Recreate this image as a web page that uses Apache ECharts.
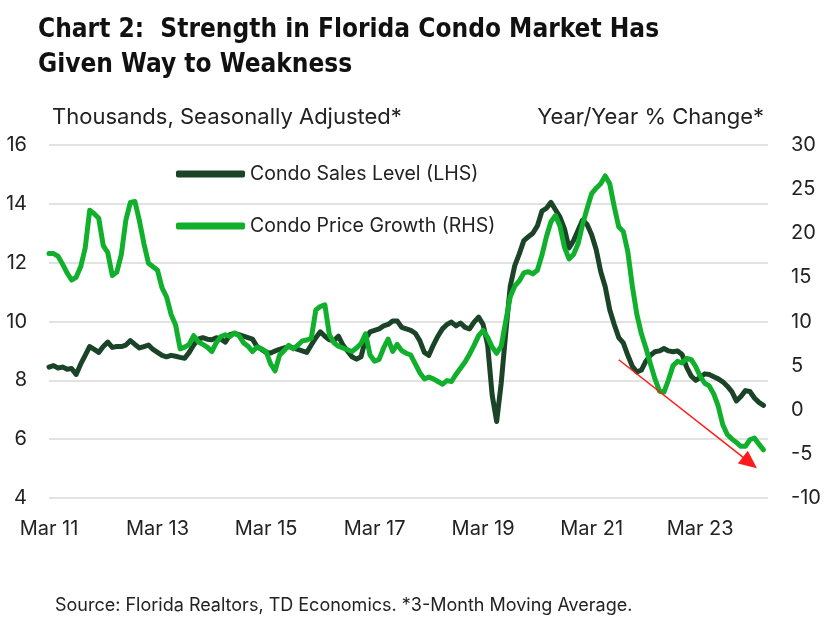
<!DOCTYPE html>
<html>
<head>
<meta charset="utf-8">
<script src="https://cdn.jsdelivr.net/npm/echarts@6/dist/echarts.min.js"></script>
<style>
  html, body { margin: 0; padding: 0; background: #fff; }
  #chart { width: 827px; height: 617px; }
</style>
</head>
<body>
<div id="chart"></div>
<script>
// monthly, Mar 2011 .. May 2024 (plus one empty month at the end)
const monthNames = ["Jan", "Feb", "Mar", "Apr", "May", "Jun", "Jul", "Aug", "Sep", "Oct", "Nov", "Dec"];
const categories = [];
for (let i = 0; i < 160; i++) {
  const m = (2 + i) % 12;
  const y = 11 + Math.floor((2 + i) / 12);
  categories.push(monthNames[m] + " " + String(y).padStart(2, "0"));
}
const tickLabels = ["Mar 11", "Mar 13", "Mar 15", "Mar 17", "Mar 19", "Mar 21", "Mar 23"];

// Condo sales level, thousands (LHS)
const salesLevel = [
  8.45, 8.5, 8.42, 8.45, 8.38, 8.4, 8.2, 8.55, 8.85, 9.15, 9.05, 8.95,
  9.15, 9.3, 9.12, 9.15, 9.15, 9.2, 9.35, 9.22, 9.1, 9.15, 9.2, 9.05,
  8.95, 8.85, 8.8, 8.85, 8.82, 8.78, 8.75, 8.95, 9.2, 9.4, 9.45, 9.4,
  9.38, 9.45, 9.4, 9.3, 9.55, 9.6, 9.55, 9.5, 9.45, 9.4, 9.15, 9.05,
  8.95, 8.93, 9.0, 9.05, 9.1, 9.15, 9.1, 9.05, 9.0, 8.95, 9.2, 9.45,
  9.65, 9.5, 9.38, 9.35, 9.5, 9.2, 9.0, 8.8, 8.72, 8.8, 9.4, 9.65,
  9.7, 9.75, 9.85, 9.9, 10.02, 10.02, 9.8, 9.75, 9.7, 9.6, 9.35, 8.95,
  8.85, 9.2, 9.5, 9.75, 9.9, 9.98, 9.85, 9.95, 9.8, 9.75, 9.98, 10.15,
  9.9, 9.2, 7.5, 6.6, 7.9, 9.6, 11.2, 11.9, 12.3, 12.75, 12.88, 13.0,
  13.25, 13.75, 13.85, 14.05, 13.8, 13.55, 13.15, 12.5, 12.75, 13.1, 13.45, 13.3,
  12.95, 12.45, 11.7, 11.18, 10.4, 9.9, 9.45, 9.27, 8.85, 8.48, 8.28, 8.35,
  8.65, 8.85, 8.97, 9.0, 9.08, 9.0, 8.97, 9.0, 8.88, 8.45, 8.15, 8.0,
  8.1, 8.22, 8.2, 8.12, 8.05, 7.95, 7.8, 7.62, 7.3, 7.45, 7.65, 7.62,
  7.4, 7.25, 7.15, null
];

// Condo price growth, y/y % (RHS)
const priceGrowth = [
  17.7, 17.7, 17.4, 16.5, 15.5, 14.7, 15.0, 16.2, 18.3, 22.6, 22.2, 21.7,
  18.6, 17.8, 15.2, 15.6, 17.6, 21.5, 23.5, 23.6, 21.4, 18.8, 16.6, 16.2,
  15.8, 13.8, 12.8, 10.8, 9.6, 6.9, 7.1, 7.4, 8.4, 7.7, 7.4, 7.1,
  6.6, 7.6, 8.3, 8.5, 8.3, 8.7, 8.4, 7.6, 7.2, 6.6, 7.1, 6.9,
  6.6, 5.2, 4.4, 6.2, 6.7, 7.3, 6.9, 7.3, 7.8, 7.9, 8.1, 11.3,
  11.7, 11.9, 8.5, 7.6, 7.2, 7.0, 6.8, 6.6, 7.0, 7.5, 8.6, 6.2,
  5.5, 5.7, 7.0, 8.0, 6.6, 7.4, 6.7, 6.4, 6.2, 5.2, 4.2, 3.5,
  3.7, 3.5, 3.2, 2.9, 3.3, 3.2, 4.0, 4.7, 5.4, 6.3, 7.3, 8.4,
  9.0, 8.2, 7.1, 6.4, 7.2, 10.0, 12.8, 14.0, 14.6, 15.5, 15.65, 15.4,
  15.8, 17.5, 19.6, 21.3, 22.0, 20.8, 18.4, 17.1, 17.6, 18.8, 21.0, 22.8,
  24.5, 25.1, 25.6, 26.5, 25.6, 23.0, 20.7, 20.2, 17.9, 14.0, 10.8, 8.6,
  7.0, 5.2, 3.5, 2.1, 2.0, 3.4, 5.0, 5.5, 5.3, 5.8, 5.7, 4.9,
  3.8, 3.0, 2.7, 1.8, 0.4, -1.7, -2.8, -3.3, -3.7, -4.15, -4.15, -3.4,
  -3.2, -3.9, -4.55, null
];

// trend arrow (category, LHS value)
const arrowFrom = ["Sep 21", 8.7];
const arrowTo = ["Feb 24", 5.2];

const darkGreen = "#1b4328";
const lightGreen = "#10b02c";
const font = "Inter";

const chart = echarts.init(document.getElementById("chart"));
chart.setOption({
  animation: false,
  textStyle: { fontFamily: font },
  title: [
    {
      text: "Chart 2:  Strength in Florida Condo Market Has\nGiven Way to Weakness",
      left: 33,
      top: 8,
      textStyle: {
        fontFamily: "DejaVu Sans Condensed",
        fontWeight: "bold",
        fontSize: 26,
        lineHeight: 35,
        color: "#111",
      },
    },
    {
      text: "Thousands, Seasonally Adjusted*",
      left: 47,
      top: 101,
      textStyle: { fontFamily: font, fontWeight: "normal", fontSize: 22, color: "#222" },
    },
    {
      text: "Year/Year % Change*",
      right: 58,
      top: 101,
      textStyle: { fontFamily: font, fontWeight: "normal", fontSize: 22, color: "#222" },
    },
    {
      text: "Source: Florida Realtors, TD Economics. *3-Month Moving Average.",
      left: 50,
      top: 592,
      textStyle: { fontFamily: font, fontWeight: "normal", fontSize: 18, color: "#222" },
    },
  ],
  legend: {
    orient: "vertical",
    left: 171,
    top: 159,
    itemWidth: 69,
    itemHeight: 7,
    itemGap: 32,
    icon: "roundRect",
    textStyle: { fontFamily: font, fontSize: 19.5, color: "#222", padding: [0, 0, 0, 0] },
    data: ["Condo Sales Level (LHS)", "Condo Price Growth (RHS)"],
  },
  grid: { left: 49, right: 59, top: 145, bottom: 119, containLabel: false },
  xAxis: {
    type: "category",
    data: categories,
    boundaryGap: false,
    axisLine: { show: false },
    axisTick: { show: false },
    axisLabel: {
      interval: (i, v) => tickLabels.includes(v),
      margin: 21,
      fontSize: 20,
      color: "#222",
      fontFamily: font,
    },
  },
  yAxis: [
    {
      type: "value",
      min: 4,
      max: 16,
      interval: 2,
      axisLine: { show: false },
      axisTick: { show: false },
      axisLabel: { fontSize: 20, color: "#222", margin: 22, fontFamily: font },
      splitLine: { lineStyle: { color: "#d9d9d9", width: 1.5 } },
    },
    {
      type: "value",
      min: -10,
      max: 30,
      interval: 5,
      axisLine: { show: false },
      axisTick: { show: false },
      axisLabel: { fontSize: 20, color: "#222", margin: 23, fontFamily: font },
      splitLine: { show: false },
    },
  ],
  series: [
    {
      name: "Condo Sales Level (LHS)",
      type: "line",
      yAxisIndex: 0,
      data: salesLevel,
      showSymbol: false,
      symbol: "none",
      z: 3,
      color: darkGreen,
      lineStyle: { color: darkGreen, width: 5, join: "round", cap: "round" },
      markLine: {
        silent: true,
        symbol: ["none", "triangle"],
        symbolSize: [16, 18],
        label: { show: false },
        lineStyle: { color: "#ff1a1a", width: 1.5, type: "solid" },
        data: [[{ coord: arrowFrom }, { coord: arrowTo }]],
      },
    },
    {
      name: "Condo Price Growth (RHS)",
      type: "line",
      yAxisIndex: 1,
      data: priceGrowth,
      showSymbol: false,
      symbol: "none",
      z: 4,
      color: lightGreen,
      lineStyle: { color: lightGreen, width: 5, join: "round", cap: "round" },
    },
  ],
});
</script>
</body>
</html>
